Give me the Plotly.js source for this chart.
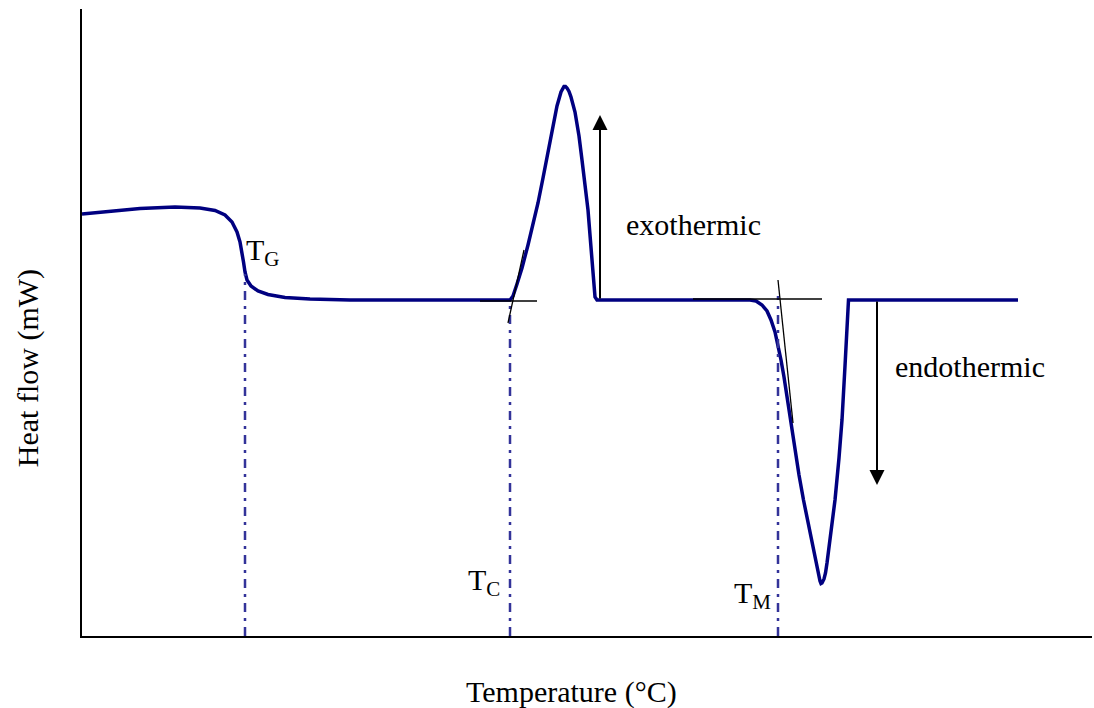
<!DOCTYPE html>
<html>
<head>
<meta charset="utf-8">
<script src="https://cdn.plot.ly/plotly-3.0.1.min.js"></script>
<style>html,body{margin:0;padding:0;background:#fff;}#chart{width:1094px;height:708px;}</style>
</head>
<body>
<div id="chart"></div>
<script>
// DSC curve (arbitrary units)
const temperature = [0,28,58,93,118,133,143,150,155,158,160,161.5,163,165,169,176,186,203,228,268,428,
  431,435,440,446,451,456,461,466,471,475,479,480.5,482,483.5,485,487,489,493,497,500,503,506,508,510,511.5,513,515,
  668,674,680,685,689,693,696,699,702,705.5,708.5,713,717,721.5,725.5,729.5,732.5,735,736.5,738,739,740,742,743.5,745,747,749,753,757,760,763,765,766.5,768,936];
const heatFlow = [422,425,427.5,429,428,425.5,421,414,404,394,384,374,364,356,350,345,341.5,338.5,337,336,336,
  340,352,368,391,411,433,458,484,511,530,544,547.5,549.5,549.5,548,544.5,539,524,500,476,451,426,401,376,356,339,336,
  336,335,331,325,316,304,291,276,259,236,216,186,161,136,116,96,81,69,60,55,52.5,53,57,63,73,89,106,136,178,216,270,314,336,336,336];

// Characteristic temperatures (vertical dash-dot markers)
const markerNames = ["T<sub>G</sub>", "T<sub>C</sub>", "T<sub>M</sub>"];
const markerX = [163, 428, 696];
const markerTop = [362, 336, 340];

// Onset construction lines
const tcBaseX = [398, 455], tcBaseY = [335, 335];
const tcTanX = [426, 442], tcTanY = [313, 386];
const tmBaseX = [611, 740], tmBaseY = [337, 337];
const tmTanX = [696, 711], tmTanY = [356, 213];

// Arrows
const arrowLabels = ["exothermic", "endothermic"];
const arrowX = [518, 795];
const arrowTail = [336, 336];
const arrowTip = [521, 151];

// Label positions
const labelPosX = [162, 420, 691];
const labelPosY = [384, 54, 41];
const arrowLabelX = [611, 888];
const arrowLabelY = [412, 270];

const FONT = "Liberation Serif, Times New Roman, serif";
const FS = 30;
const traces = [];
traces.push({x: temperature, y: heatFlow, mode: "lines", line: {color: "#000080", width: 3.5}, hoverinfo: "skip"});
for (let i = 0; i < markerX.length; i++) {
  traces.push({x: [markerX[i], markerX[i]], y: [0, markerTop[i]], mode: "lines",
    line: {color: "#333399", width: 2.5, dash: "9px,6px,3px,6px"}, hoverinfo: "skip"});
}
[[tcBaseX, tcBaseY], [tcTanX, tcTanY], [tmBaseX, tmBaseY], [tmTanX, tmTanY]].forEach(p => {
  traces.push({x: p[0], y: p[1], mode: "lines", line: {color: "#000", width: 1.3}, hoverinfo: "skip"});
});

const annotations = [];
for (let i = 0; i < markerNames.length; i++) {
  annotations.push({x: labelPosX[i], y: labelPosY[i], xref: "x", yref: "y", text: markerNames[i],
    showarrow: false, xanchor: i === 0 ? "left" : "right", yanchor: "middle",
    font: {family: FONT, size: FS, color: "#000"}});
}
for (let i = 0; i < arrowLabels.length; i++) {
  annotations.push({x: arrowX[i], y: arrowTip[i], ax: arrowX[i], ay: arrowTail[i], xref: "x", yref: "y",
    axref: "x", ayref: "y", text: "", showarrow: true, arrowhead: 2, arrowsize: 1.5, arrowwidth: 2, arrowcolor: "#000"});
  annotations.push({x: arrowLabelX[i], y: arrowLabelY[i], xref: "x", yref: "y", text: arrowLabels[i],
    showarrow: false, xanchor: "center", yanchor: "middle", font: {family: FONT, size: FS, color: "#000"}});
}
annotations.push({x: -0.0535, y: 0.427, xref: "paper", yref: "paper", text: "Heat flow (mW)", textangle: -90,
  showarrow: false, xanchor: "center", yanchor: "middle", font: {family: FONT, size: FS, color: "#000"}});
annotations.push({x: 0.485, y: -0.089, xref: "paper", yref: "paper", text: "Temperature (°C)",
  showarrow: false, xanchor: "center", yanchor: "middle", font: {family: FONT, size: FS, color: "#000"}});

const layout = {
  width: 1094, height: 708,
  margin: {l: 82, r: 2, t: 9, b: 72},
  paper_bgcolor: "#fff", plot_bgcolor: "#fff",
  showlegend: false,
  xaxis: {range: [0, 1010], showline: true, linecolor: "#000", linewidth: 2, showgrid: false, zeroline: false,
    showticklabels: false, ticks: ""},
  yaxis: {range: [0, 627], showline: true, linecolor: "#000", linewidth: 2, showgrid: false, zeroline: false,
    showticklabels: false, ticks: ""},
  annotations: annotations
};
Plotly.newPlot("chart", traces, layout, {staticPlot: true});
</script>
</body>
</html>
